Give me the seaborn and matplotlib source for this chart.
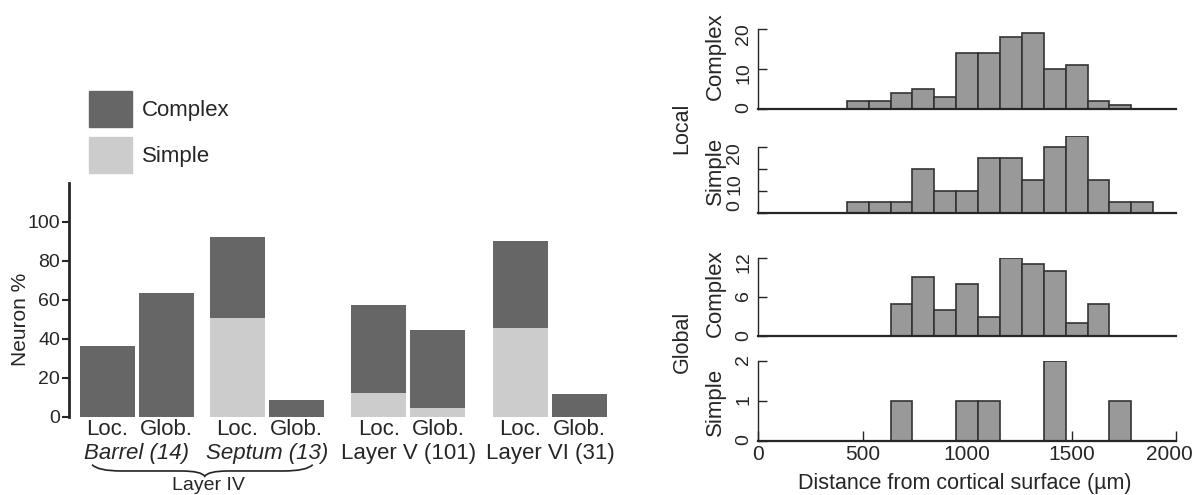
import numpy as np
import pandas as pd
import matplotlib
matplotlib.use("Agg")
import matplotlib.pyplot as plt
import seaborn as sns
from matplotlib.patches import Patch, PathPatch
from matplotlib.path import Path
from matplotlib.transforms import blended_transform_factory, ScaledTranslation

# ---------------- data ----------------
bar_labels = ["Loc.", "Glob.", "Loc.", "Glob.", "Loc.", "Glob.", "Loc.", "Glob."]
group_labels = ["Barrel (14)", "Septum (13)", "Layer V (101)", "Layer VI (31)"]
group_italic = [True, True, False, False]
complex_pct = [36.5, 63.5, 41.5, 8.5, 45.5, 40.0, 44.5, 11.5]
simple_pct = [0.0, 0.0, 50.5, 0.0, 12.0, 4.5, 45.5, 0.0]
pct_ticks = [0, 20, 40, 60, 80, 100]

depth_ticks = [0, 500, 1000, 1500, 2000]
bin_start = 425.0   # first bin edge (µm)
bin_end = 1891.0    # last bin edge (µm)
local_complex = [2, 2, 4, 5, 3, 14, 14, 18, 19, 10, 11, 2, 1, 0]
local_simple = [1, 1, 1, 4, 2, 2, 5, 5, 3, 6, 7, 3, 1, 1]
global_complex = [0, 0, 5, 9, 4, 8, 3, 12, 11, 10, 2, 5, 0, 0]
global_simple = [0, 0, 1, 0, 0, 1, 1, 0, 0, 2, 0, 0, 1, 0]

# ---------------- style ----------------
sns.set_style("ticks")
plt.rcParams["font.family"] = ["Liberation Sans", "DejaVu Sans"]
DARK = "#666666"
LIGHT = "#cccccc"
HIST = "#999999"

W, H = 1197, 495
fig = plt.figure(figsize=(W / 100, H / 100), dpi=100)


def rect(l, t, r, b):
    return [l / W, 1 - b / H, (r - l) / W, (b - t) / H]


# ---------------- left: stacked bars ----------------
axL = fig.add_axes(rect(69, 182.7, 612, 416.7))
group_pos = [0.0, 2.2, 4.6, 7.0]          # layout of the four groups
bar_x = [g + i for g in group_pos for i in (0, 1)]
df = pd.DataFrame({
    "x": bar_x,
    "total": np.add(complex_pct, simple_pct),
    "simple": simple_pct,
})
sns.barplot(data=df, x="x", y="total", native_scale=True, color=DARK,
            saturation=1, width=0.93, errorbar=None, linewidth=0, ax=axL)
sns.barplot(data=df, x="x", y="simple", native_scale=True, color=LIGHT,
            saturation=1, width=0.93, errorbar=None, linewidth=0, ax=axL)
axL.set_xlim(-0.65, 8.55)
axL.set_ylim(0, 120)
axL.set_yticks(pct_ticks)
axL.tick_params(axis="y", direction="out", length=5, width=1.5, pad=1.5,
                labelsize=14)
axL.set_xticks(bar_x)
axL.set_xticklabels(bar_labels, fontsize=16)
axL.tick_params(axis="x", length=0, pad=2)
axL.set_xlabel("")
axL.set_ylabel("")
for s in ["top", "right", "bottom"]:
    axL.spines[s].set_visible(False)
axL.spines["left"].set_linewidth(2)

tr = blended_transform_factory(axL.transData, axL.transAxes)
for gp, lab, it in zip(group_pos, group_labels, group_italic):
    axL.text(gp + 0.5, -0.158, lab, transform=tr, ha="center", va="center",
             fontsize=16, style="italic" if it else "normal")

# brace under Layer IV
x0, xm, x1 = -0.26, 1.65, 3.48
y0, y1, y2 = -0.205, -0.232, -0.255
verts = [(x0, y0), (x0 + 0.1, y1), (x0 + 0.5, y1),
         (xm - 0.4, y1),
         (xm - 0.05, y1), (xm, y2),
         (xm + 0.05, y1), (xm + 0.4, y1),
         (x1 - 0.5, y1),
         (x1 - 0.1, y1), (x1, y0)]
codes = [Path.MOVETO, Path.CURVE3, Path.CURVE3, Path.LINETO,
         Path.CURVE3, Path.CURVE3, Path.CURVE3, Path.CURVE3,
         Path.LINETO, Path.CURVE3, Path.CURVE3]
axL.add_patch(PathPatch(Path(verts, codes), transform=tr, fill=False,
                        lw=1.2, color="#222222", clip_on=False))
fig.text(208 / W, 1 - 494 / H, "Layer IV", ha="center", va="bottom",
         fontsize=14)

fig.text(21 / W, 1 - 319 / H, "Neuron %", rotation=90, ha="center",
         va="center", fontsize=15)

fig.legend(handles=[Patch(color=DARK, label="Complex"),
                    Patch(color=LIGHT, label="Simple")],
           loc="upper left", bbox_to_anchor=(89 / W, 1 - 91 / H),
           frameon=False, borderpad=0, borderaxespad=0, fontsize=16,
           handlelength=1.94, handleheight=2.1, handletextpad=0.45,
           labelspacing=0.45)

# ---------------- right: histograms ----------------
n_bins = len(local_complex)
edges = np.linspace(bin_start, bin_end, n_bins + 1)
centers = (edges[:-1] + edges[1:]) / 2

panels = [
    (local_complex, rect(758, 29.3, 1176, 109), 20, [0, 10, 20]),
    (local_simple, rect(758, 135.6, 1176, 213.3), 7, None),
    (global_complex, rect(758, 257.7, 1176, 336.3), 12, [0, 6, 12]),
    (global_simple, rect(758, 361, 1176, 441), 2, [0, 1, 2]),
]
axes_r = []
for counts, r, ytop, yt in panels:
    ax = fig.add_axes(r)
    hdf = pd.DataFrame({"depth": centers, "count": counts})
    sns.histplot(data=hdf, x="depth", weights="count", bins=n_bins,
                 binrange=(bin_start, bin_end),
                 color=HIST, edgecolor="#333333", linewidth=1.2, alpha=1,
                 ax=ax)
    ax.set_xlim(0, 2000)
    ax.set_ylim(0, ytop)
    ax.set_ylabel("")
    ax.set_xlabel("")
    for s in ["top", "right"]:
        ax.spines[s].set_visible(False)
    ax.spines["left"].set_linewidth(1.0)
    ax.spines["bottom"].set_linewidth(1.6)
    if yt is not None:
        ax.set_yticks(yt)
        ax.set_yticklabels([str(v) for v in yt])
    ax.tick_params(axis="y", direction="in", length=6.5, width=1.0,
                   labelrotation=90, labelsize=14, pad=4)
    axes_r.append(ax)

# Local Simple: tick marks and labels as drawn in the reference
axLS = axes_r[1]
axLS.spines["left"].set_bounds(0, 6)
axLS.set_yticks([0, 2, 4, 6], minor=True)
axLS.set_yticks([0.57, 3.0, 5.8])
axLS.set_yticklabels(["0", "10", "20"])
axLS.tick_params(axis="y", which="major", length=0, pad=10.5)
axLS.tick_params(axis="y", which="minor", direction="in", length=6.5,
                 width=1.0)

for ax in axes_r[:3]:
    ax.set_xticks([])
axGS = axes_r[3]
axGS.set_xticks(depth_ticks)
axGS.tick_params(axis="x", direction="in", length=7, width=1.0, pad=3,
                 labelsize=15)
last = axGS.get_xticklabels()[-1]
last.set_transform(last.get_transform() +
                   ScaledTranslation(-5 / 72, 0, fig.dpi_scale_trans))

fig.text(965 / W, 1 - 483 / H, "Distance from cortical surface (µm)",
         ha="center", va="center", fontsize=15.5)
for txt, yc in [("Complex", 56), ("Simple", 171), ("Complex", 293),
                ("Simple", 402)]:
    fig.text(715 / W, 1 - yc / H, txt, rotation=90, ha="center",
             va="center", fontsize=16)
fig.text(682 / W, 1 - 128 / H, "Local", rotation=90, ha="center",
         va="center", fontsize=15.5)
fig.text(682 / W, 1 - 342 / H, "Global", rotation=90, ha="center",
         va="center", fontsize=15.5)

fig.savefig("out.png", dpi=100)
